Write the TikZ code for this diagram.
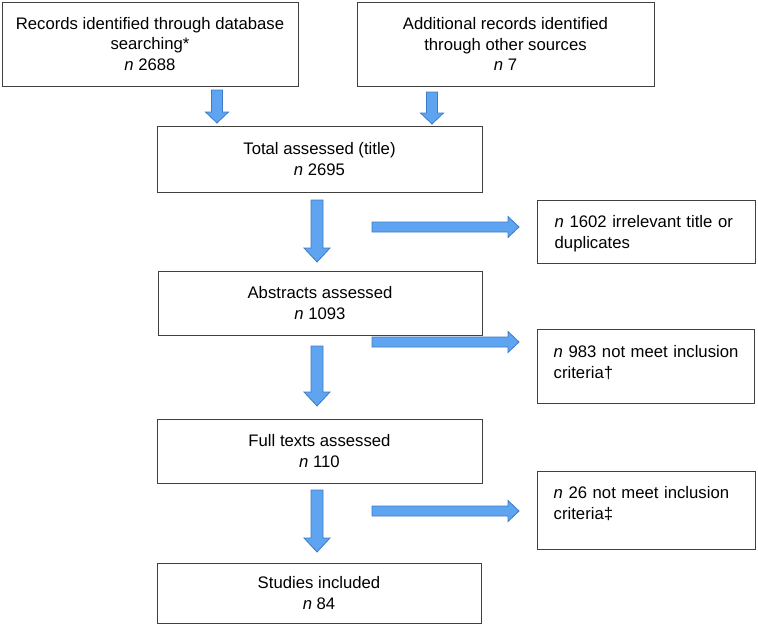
\documentclass[tikz,border=0pt]{standalone}
\usepackage{fontspec}
\setmainfont{Liberation Sans}
\usetikzlibrary{calc}
\definecolor{arrfill}{RGB}{94,164,240}
\definecolor{arrline}{RGB}{62,122,198}
\definecolor{boxline}{RGB}{64,64,64}
\tikzset{
  box/.style={draw=boxline, line width=1pt, fill=white, inner sep=0pt, align=center,
    font=\fontsize{16.7}{20.5}\selectfont},
  rtext/.style={inner sep=0pt, align=left, text width=190pt, anchor=base west,
    font=\fontsize{16.7}{20.5}\selectfont},
  barrow/.style={fill=arrfill, draw=arrline, line width=0.8pt, line join=miter}
}
% down block arrow: x, ytop, ybottom, half shaft, half head, head length
\newcommand\downarr[6]{%
  \draw[barrow] (#1-#4,#2) -- (#1+#4,#2) -- (#1+#4,#3-#6) -- (#1+#5,#3-#6) -- (#1,#3)
    -- (#1-#5,#3-#6) -- (#1-#4,#3-#6) -- cycle;}
% right block arrow: y, xleft, xright, half shaft, half head, head length
\newcommand\rightarr[6]{%
  \draw[barrow] (#2,#1-#4) -- (#3-#6,#1-#4) -- (#3-#6,#1-#5) -- (#3,#1) -- (#3-#6,#1+#5)
    -- (#3-#6,#1+#4) -- (#2,#1+#4) -- cycle;}
\begin{document}
\begin{tikzpicture}[x=1pt,y=-1pt]
\useasboundingbox (0,0) rectangle (758,625);

\node[box, minimum width=296, minimum height=84] (A) at (150,44)
  {Records identified through database\\searching*\\\textit{n} 2688};
\node[box, minimum width=297, minimum height=84] (B) at (505.5,44)
  {Additional records identified\\through other sources\\\textit{n} 7};
\node[box, minimum width=325, minimum height=66] (C) at (319.5,159)
  {Total assessed (title)\\\textit{n} 2695};
\node[box, minimum width=324, minimum height=64] (E) at (320,303)
  {Abstracts assessed\\\textit{n} 1093};
\node[box, minimum width=325, minimum height=64] (G) at (319.5,451)
  {Full texts assessed\\\textit{n} 110};
\node[box, minimum width=324, minimum height=60] (I) at (319,593)
  {Studies included\\\textit{n} 84};

\node[box, minimum width=218, minimum height=63] (D) at (646,231.5) {};
\node[rtext] (Dt) at ($(D.north west)+(18,28)$) {\textit{n} 1602 irrelevant title or\\duplicates};
\node[box, minimum width=217, minimum height=74] (F) at (645.5,366) {};
\node[rtext] (Ft) at ($(F.north west)+(17,29)$) {\textit{n} 983 not meet inclusion\\criteria†};
\node[box, minimum width=218, minimum height=78] (H) at (646,510) {};
\node[rtext] (Ht) at ($(H.north west)+(17,28)$) {\textit{n} 26 not meet inclusion\\criteria‡};

% small down arrows into total
\downarr{217}{90}{123}{5.5}{11.5}{11}
\downarr{432}{92}{124}{5.5}{11.5}{11}
% main down arrows
\downarr{317}{200}{262}{6}{13}{14}
\downarr{317}{346}{406}{6}{13}{14}
\downarr{317}{490}{552}{6}{13}{14}
% right arrows
\rightarr{227}{372}{519}{5}{10.5}{11}
\rightarr{342}{372}{519}{5}{10.5}{11}
\rightarr{511}{372}{519}{5}{10.5}{11}
\end{tikzpicture}
\end{document}
